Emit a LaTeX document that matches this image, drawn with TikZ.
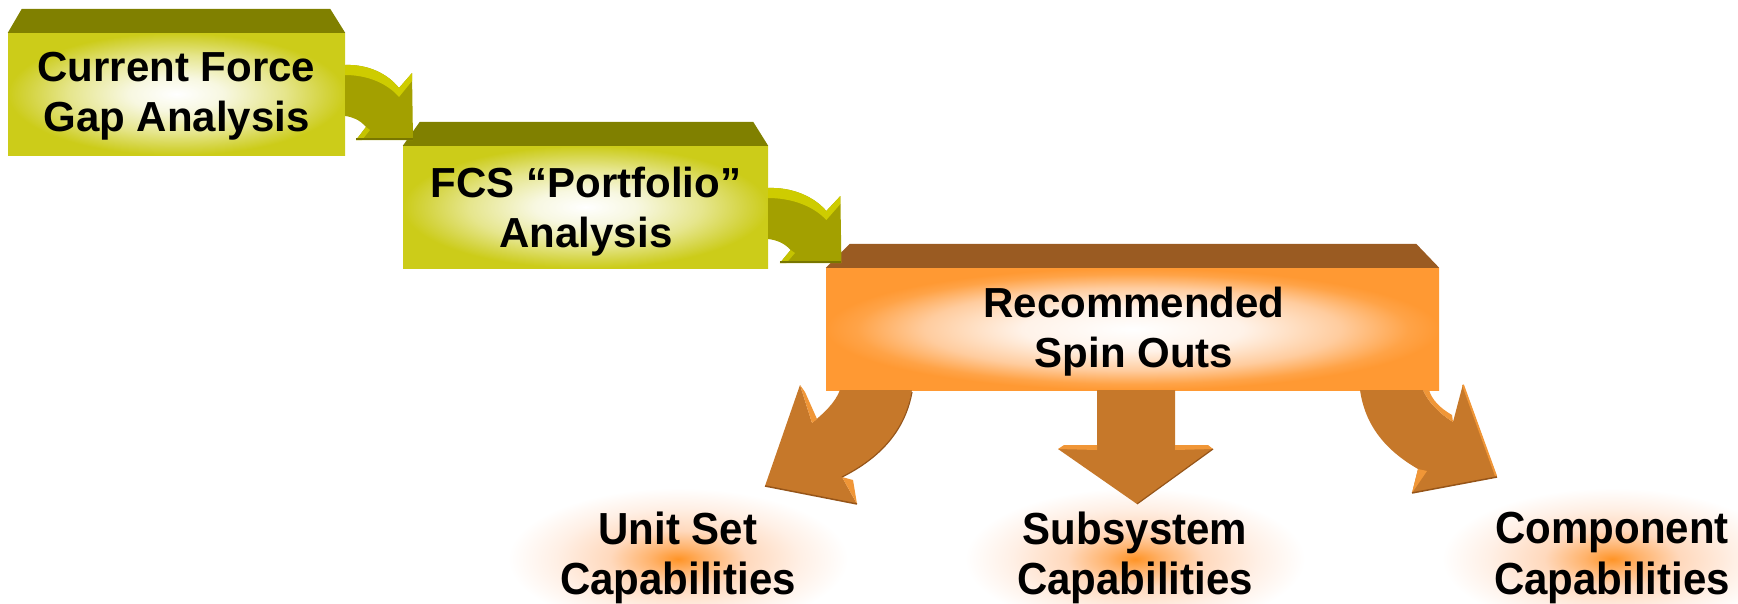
\documentclass[tikz,border=0pt]{standalone}
\usepackage{fontspec}
\setmainfont{Liberation Sans}
\usetikzlibrary{calc}
\definecolor{gtop}{RGB}{128,128,0}
\definecolor{garrow}{RGB}{163,160,0}
\definecolor{gbright}{RGB}{206,204,0}
\definecolor{gdark}{RGB}{120,118,0}
\definecolor{otop}{RGB}{154,91,34}
\definecolor{oarrow}{RGB}{198,120,42}
\definecolor{olight}{RGB}{240,150,55}
\definecolor{odark}{RGB}{150,85,25}
\pgfdeclareradialshading{gshade}{\pgfpoint{0bp}{0bp}}{rgb(0bp)=(1,1,1); rgb(7bp)=(0.97,0.97,0.88); rgb(16bp)=(0.9,0.9,0.55); rgb(22bp)=(0.83,0.83,0.25); rgb(25bp)=(0.8,0.8,0.1); rgb(50bp)=(0.8,0.8,0.1)}
\pgfdeclareradialshading{oshade}{\pgfpoint{0bp}{0bp}}{rgb(0bp)=(1,1,1); rgb(9bp)=(1,0.95,0.91); rgb(17bp)=(1,0.8,0.62); rgb(22.5bp)=(1,0.64,0.28); rgb(25bp)=(1,0.6,0.2); rgb(50bp)=(1,0.6,0.2)}
\pgfdeclareradialshading{glow}{\pgfpoint{0bp}{0bp}}{rgb(0bp)=(1,0.58,0.15); rgb(4bp)=(1,0.7,0.42); rgb(10bp)=(1,0.85,0.74); rgb(18bp)=(1,0.94,0.9); rgb(25bp)=(1,1,1); rgb(50bp)=(1,1,1)}
\tikzset{
  gbox/.style={shade, shading=gshade, draw=none, inner sep=0pt},
  obox/.style={shade, shading=oshade, draw=none, inner sep=0pt},
  txt/.style={font=\fontsize{42}{50}\selectfont\bfseries, align=center, inner sep=0pt},
  lbl/.style={font=\fontsize{42}{47}\selectfont\bfseries, align=center, inner sep=0pt, yscale=1.07},
  glowbox/.style={shade, shading=glow},
}
\begin{document}
\begin{tikzpicture}[x=1pt,y=-1pt]
\useasboundingbox (0,0) rectangle (1738,603);
\clip (0,0) rectangle (1738,603);
% glows behind bottom labels
\shade[glowbox] (508,488) rectangle (848,630);
\shade[glowbox] (965,488) rectangle (1305,630);
\shade[glowbox] (1442,488) rectangle (1782,630);
% box 1
\node[gbox, minimum width=337pt, minimum height=122pt] (b1) at (176.5,94) {};
\fill[gtop] (b1.north west) -- ([xshift=14pt,yshift=24pt]b1.north west) -- ([xshift=-15pt,yshift=24pt]b1.north east) -- (b1.north east) -- cycle;
\node[txt] (t1) at (176.5,96) {Current Force\\Gap Analysis};
% box 2
\node[gbox, minimum width=365pt, minimum height=122pt] (b2) at (585.5,207) {};
\fill[gtop] (b2.north west) -- ([xshift=17pt,yshift=24pt]b2.north west) -- ([xshift=-15pt,yshift=24pt]b2.north east) -- (b2.north east) -- cycle;
\node[txt] (t2) at (586,212) {FCS “Portfolio”\\Analysis};
% box 3
\node[obox, minimum width=613pt, minimum height=122pt] (b3) at (1132.5,329) {};
\fill[otop] (b3.north west) -- ([xshift=24pt,yshift=24pt]b3.north west) -- ([xshift=-23pt,yshift=24pt]b3.north east) -- (b3.north east) -- cycle;
\node[txt] (t3) at (1134,332) {Recommended\\Spin Outs};
% bottom labels
\node[lbl] (l1) at (678,558) {Unit Set\\Capabilities};
\node[lbl] (l2) at (1135,558) {Subsystem\\Capabilities};
\node[lbl] (l3) at (1612,558) {Component\\Capabilities};
% green curved arrows
\foreach \sx/\sy/\sc in {345/65/1, 768/188/1.08}{
\begin{scope}[shift={(\sx,\sy)}, xscale=\sc]
\fill[garrow] (0,0) .. controls (23,-1) and (43,9) .. (54,23) -- (67,8) -- (68,75) -- (11,75) -- (21,62) .. controls (15,55) and (8,52) .. (0,51) -- cycle;
\fill[gbright] (0,0) .. controls (23,-1) and (43,9) .. (54,23) -- (67,8) -- (67,16) -- (54,32) .. controls (42,18) and (22,10) .. (0,10) -- cycle;
\fill[gbright!80!garrow] (11,75) -- (21,62) -- (25,65) -- (17,75) -- cycle;
\draw[gdark, line width=2pt] (11,74) -- (68,74);
\end{scope}
}
% orange arrows
\fill[oarrow] (912,390) .. controls (906,425) and (886,455) .. (842,477) -- (857,504) -- (765,486) -- (800,385) -- (812,423) .. controls (824,413) and (835,403) .. (840,390) -- cycle;
\fill[olight] (800,385) -- (812,423) -- (817,419) -- (805,392) -- cycle;
\fill[olight] (842,477) -- (853,480) -- (857,504) -- cycle;
\draw[odark, line width=1.2pt] (912,392) .. controls (906,425) and (886,455) .. (842,477);
\draw[odark, line width=1.5pt] (765,486) -- (857,504);
\fill[oarrow] (1097,390) -- (1097,448) -- (1058,449) -- (1137,504) -- (1213,449) -- (1175,448) -- (1175,390) -- cycle;
\fill[olight] (1058,449) -- (1064,445) -- (1097,445) -- (1097,450) -- cycle;
\fill[olight] (1175,445) -- (1208,445) -- (1213,449) -- (1175,450) -- cycle;
\draw[odark, line width=1.2pt] (1213,449) -- (1137,504);
\fill[oarrow] (1360,390) .. controls (1365,425) and (1385,450) .. (1418,469) -- (1412,493) -- (1497,477) -- (1463,384) -- (1453,422) .. controls (1440,414) and (1428,402) .. (1423,390) -- cycle;
\fill[olight] (1423,390) .. controls (1428,402) and (1440,414) .. (1453,422) -- (1452,415) .. controls (1440,408) and (1432,400) .. (1429,390) -- cycle;
\fill[olight] (1418,469) -- (1412,493) -- (1427,471) -- cycle;
\draw[olight, line width=2pt] (1463,385) -- (1496,476);
\draw[odark, line width=1.5pt] (1412,493) -- (1497,477);
\end{tikzpicture}
\end{document}
